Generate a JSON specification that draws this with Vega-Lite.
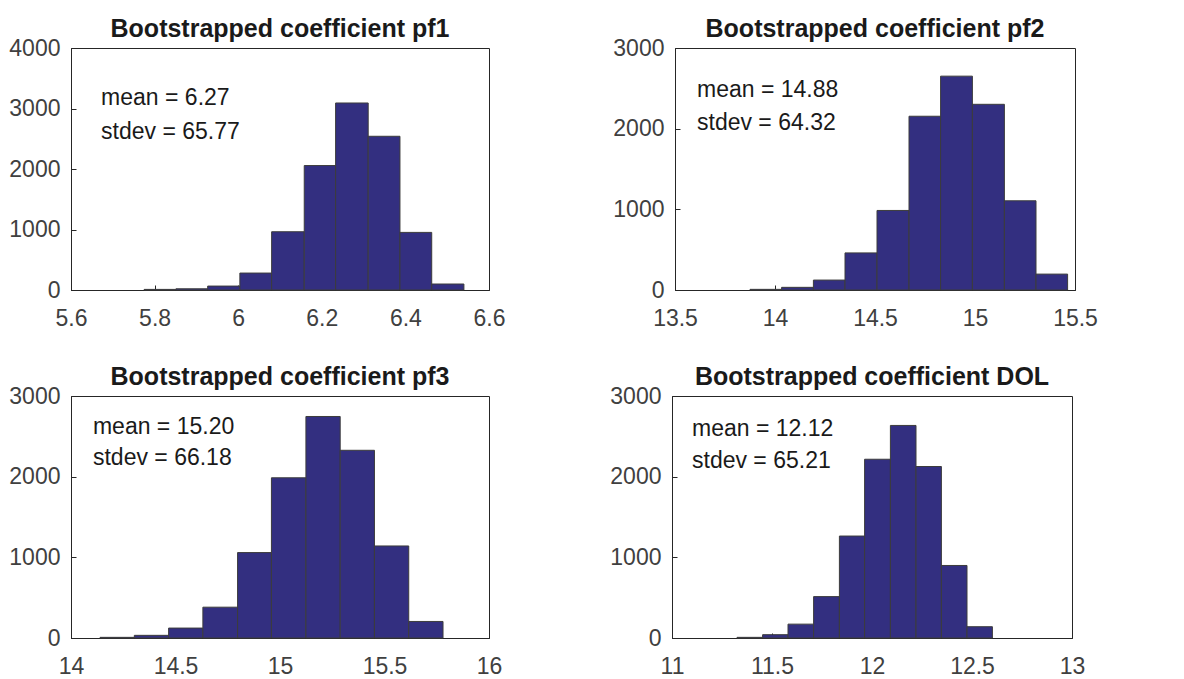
{
  "$schema": "https://vega.github.io/schema/vega-lite/v6.json",
  "padding": {"left": 8, "top": 16, "right": 5, "bottom": 0},
  "background": "white",
  "datasets": {
    "bins": [
      {"panel": "pf1", "lo": 5.775, "hi": 5.851, "count": 10},
      {"panel": "pf1", "lo": 5.851, "hi": 5.927, "count": 20},
      {"panel": "pf1", "lo": 5.927, "hi": 6.004, "count": 65},
      {"panel": "pf1", "lo": 6.004, "hi": 6.080, "count": 280},
      {"panel": "pf1", "lo": 6.080, "hi": 6.158, "count": 963},
      {"panel": "pf1", "lo": 6.158, "hi": 6.233, "count": 2057},
      {"panel": "pf1", "lo": 6.233, "hi": 6.311, "count": 3091},
      {"panel": "pf1", "lo": 6.311, "hi": 6.387, "count": 2541},
      {"panel": "pf1", "lo": 6.387, "hi": 6.463, "count": 952},
      {"panel": "pf1", "lo": 6.463, "hi": 6.540, "count": 99},
      {"panel": "pf2", "lo": 13.875, "hi": 14.033, "count": 8},
      {"panel": "pf2", "lo": 14.033, "hi": 14.192, "count": 33},
      {"panel": "pf2", "lo": 14.192, "hi": 14.350, "count": 123},
      {"panel": "pf2", "lo": 14.350, "hi": 14.510, "count": 460},
      {"panel": "pf2", "lo": 14.510, "hi": 14.670, "count": 986},
      {"panel": "pf2", "lo": 14.670, "hi": 14.828, "count": 2154},
      {"panel": "pf2", "lo": 14.828, "hi": 14.987, "count": 2651},
      {"panel": "pf2", "lo": 14.987, "hi": 15.147, "count": 2302},
      {"panel": "pf2", "lo": 15.147, "hi": 15.305, "count": 1106},
      {"panel": "pf2", "lo": 15.305, "hi": 15.463, "count": 197},
      {"panel": "pf3", "lo": 14.139, "hi": 14.303, "count": 8},
      {"panel": "pf3", "lo": 14.303, "hi": 14.467, "count": 33},
      {"panel": "pf3", "lo": 14.467, "hi": 14.631, "count": 123},
      {"panel": "pf3", "lo": 14.631, "hi": 14.797, "count": 382},
      {"panel": "pf3", "lo": 14.797, "hi": 14.959, "count": 1059},
      {"panel": "pf3", "lo": 14.959, "hi": 15.124, "count": 1986},
      {"panel": "pf3", "lo": 15.124, "hi": 15.288, "count": 2746},
      {"panel": "pf3", "lo": 15.288, "hi": 15.452, "count": 2327},
      {"panel": "pf3", "lo": 15.452, "hi": 15.616, "count": 1141},
      {"panel": "pf3", "lo": 15.616, "hi": 15.780, "count": 205},
      {"panel": "DOL", "lo": 11.325, "hi": 11.453, "count": 8},
      {"panel": "DOL", "lo": 11.453, "hi": 11.580, "count": 41},
      {"panel": "DOL", "lo": 11.580, "hi": 11.708, "count": 172},
      {"panel": "DOL", "lo": 11.708, "hi": 11.837, "count": 513},
      {"panel": "DOL", "lo": 11.837, "hi": 11.963, "count": 1264},
      {"panel": "DOL", "lo": 11.963, "hi": 12.092, "count": 2216},
      {"panel": "DOL", "lo": 12.092, "hi": 12.220, "count": 2635},
      {"panel": "DOL", "lo": 12.220, "hi": 12.347, "count": 2126},
      {"panel": "DOL", "lo": 12.347, "hi": 12.475, "count": 899},
      {"panel": "DOL", "lo": 12.475, "hi": 12.602, "count": 140}
    ],
    "notes": [
      {"panel": "pf1", "tx": 5.672, "ty": 3174, "label": "mean = 6.27"},
      {"panel": "pf1", "tx": 5.672, "ty": 2612, "label": "stdev = 65.77"},
      {"panel": "pf2", "tx": 13.61, "ty": 2481, "label": "mean = 14.88"},
      {"panel": "pf2", "tx": 13.61, "ty": 2074, "label": "stdev = 64.32"},
      {"panel": "pf3", "tx": 14.105, "ty": 2617, "label": "mean = 15.20"},
      {"panel": "pf3", "tx": 14.105, "ty": 2235, "label": "stdev = 66.18"},
      {"panel": "DOL", "tx": 11.10, "ty": 2593, "label": "mean = 12.12"},
      {"panel": "DOL", "tx": 11.10, "ty": 2198, "label": "stdev = 65.21"}
    ]
  },
  "config": {
    "font": "Liberation Sans",
    "view": {"stroke": "#262626", "strokeWidth": 1},
    "axis": {
      "labelFont": "Liberation Sans",
      "labelFontSize": 23,
      "labelColor": "#404040",
      "domainColor": "#262626",
      "tickColor": "#262626",
      "tickSize": -5,
      "grid": false,
      "title": null,
      "format": "~r",
      "labelFlush": false,
      "labelOverlap": false
    },
    "axisX": {"labelPadding": 22},
    "axisY": {"labelPadding": 16},
    "title": {
      "font": "Liberation Sans",
      "fontSize": 25,
      "fontWeight": "bold",
      "color": "#1a1a1a",
      "offset": -5
    },
    "text": {"font": "Liberation Sans", "fontSize": 23, "color": "#1a1a1a"}
  },
  "spacing": 33,
  "vconcat": [
    {
      "spacing": 106,
      "hconcat": [
        {
          "title": "Bootstrapped coefficient pf1",
          "width": 418, "height": 242,
          "layer": [
            {
              "data": {"name": "bins"},
              "transform": [{"filter": "datum.panel === 'pf1'"}],
              "mark": {"type": "rect", "color": "#332f80", "stroke": "#3c3c3c", "strokeWidth": 1},
              "encoding": {
                "x": {"field": "lo", "type": "quantitative", "scale": {"domain": [5.6, 6.6], "nice": false, "zero": false}, "axis": {"values": [5.6, 5.8, 6.0, 6.2, 6.4, 6.6]}},
                "x2": {"field": "hi"},
                "y": {"field": "count", "type": "quantitative", "scale": {"domain": [0, 4000], "nice": false}, "axis": {"values": [0, 1000, 2000, 3000, 4000]}},
                "y2": {"datum": 0}
              }
            },
            {
              "data": {"name": "notes"},
              "transform": [{"filter": "datum.panel === 'pf1'"}],
              "mark": {"type": "text", "align": "left", "baseline": "middle"},
              "encoding": {
                "x": {"field": "tx", "type": "quantitative"},
                "y": {"field": "ty", "type": "quantitative"},
                "text": {"field": "label"}
              }
            }
          ]
        },
        {
          "title": "Bootstrapped coefficient pf2",
          "width": 400, "height": 242,
          "layer": [
            {
              "data": {"name": "bins"},
              "transform": [{"filter": "datum.panel === 'pf2'"}],
              "mark": {"type": "rect", "color": "#332f80", "stroke": "#3c3c3c", "strokeWidth": 1},
              "encoding": {
                "x": {"field": "lo", "type": "quantitative", "scale": {"domain": [13.5, 15.5], "nice": false, "zero": false}, "axis": {"values": [13.5, 14, 14.5, 15, 15.5]}},
                "x2": {"field": "hi"},
                "y": {"field": "count", "type": "quantitative", "scale": {"domain": [0, 3000], "nice": false}, "axis": {"values": [0, 1000, 2000, 3000]}},
                "y2": {"datum": 0}
              }
            },
            {
              "data": {"name": "notes"},
              "transform": [{"filter": "datum.panel === 'pf2'"}],
              "mark": {"type": "text", "align": "left", "baseline": "middle"},
              "encoding": {
                "x": {"field": "tx", "type": "quantitative"},
                "y": {"field": "ty", "type": "quantitative"},
                "text": {"field": "label"}
              }
            }
          ]
        }
      ]
    },
    {
      "spacing": 106,
      "hconcat": [
        {
          "title": "Bootstrapped coefficient pf3",
          "width": 418, "height": 242,
          "layer": [
            {
              "data": {"name": "bins"},
              "transform": [{"filter": "datum.panel === 'pf3'"}],
              "mark": {"type": "rect", "color": "#332f80", "stroke": "#3c3c3c", "strokeWidth": 1},
              "encoding": {
                "x": {"field": "lo", "type": "quantitative", "scale": {"domain": [14, 16], "nice": false, "zero": false}, "axis": {"values": [14, 14.5, 15, 15.5, 16]}},
                "x2": {"field": "hi"},
                "y": {"field": "count", "type": "quantitative", "scale": {"domain": [0, 3000], "nice": false}, "axis": {"values": [0, 1000, 2000, 3000]}},
                "y2": {"datum": 0}
              }
            },
            {
              "data": {"name": "notes"},
              "transform": [{"filter": "datum.panel === 'pf3'"}],
              "mark": {"type": "text", "align": "left", "baseline": "middle"},
              "encoding": {
                "x": {"field": "tx", "type": "quantitative"},
                "y": {"field": "ty", "type": "quantitative"},
                "text": {"field": "label"}
              }
            }
          ]
        },
        {
          "title": "Bootstrapped coefficient DOL",
          "width": 400, "height": 242,
          "layer": [
            {
              "data": {"name": "bins"},
              "transform": [{"filter": "datum.panel === 'DOL'"}],
              "mark": {"type": "rect", "color": "#332f80", "stroke": "#3c3c3c", "strokeWidth": 1},
              "encoding": {
                "x": {"field": "lo", "type": "quantitative", "scale": {"domain": [11, 13], "nice": false, "zero": false}, "axis": {"values": [11, 11.5, 12, 12.5, 13]}},
                "x2": {"field": "hi"},
                "y": {"field": "count", "type": "quantitative", "scale": {"domain": [0, 3000], "nice": false}, "axis": {"values": [0, 1000, 2000, 3000]}},
                "y2": {"datum": 0}
              }
            },
            {
              "data": {"name": "notes"},
              "transform": [{"filter": "datum.panel === 'DOL'"}],
              "mark": {"type": "text", "align": "left", "baseline": "middle"},
              "encoding": {
                "x": {"field": "tx", "type": "quantitative"},
                "y": {"field": "ty", "type": "quantitative"},
                "text": {"field": "label"}
              }
            }
          ]
        }
      ]
    }
  ]
}
